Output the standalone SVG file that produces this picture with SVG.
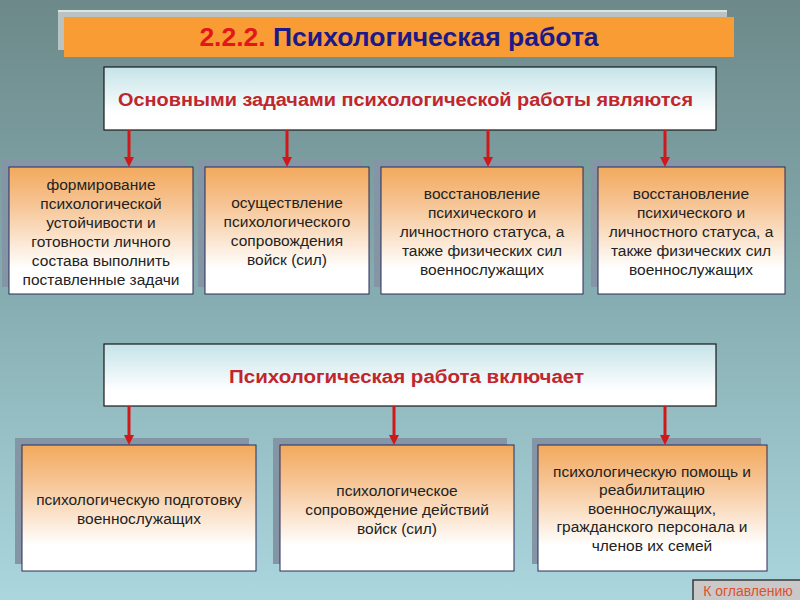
<svg xmlns="http://www.w3.org/2000/svg" width="800" height="600" viewBox="0 0 800 600">
<defs>
<linearGradient id="bg" x1="0" y1="0" x2="0" y2="1">
<stop offset="0" stop-color="#6d8989"/>
<stop offset="0.5" stop-color="#86aeb2"/>
<stop offset="1" stop-color="#acd6de"/>
</linearGradient>
<linearGradient id="hdr" x1="0" y1="0" x2="0" y2="1">
<stop offset="0" stop-color="#c4e3e8"/>
<stop offset="0.75" stop-color="#ffffff"/>
<stop offset="1" stop-color="#ffffff"/>
</linearGradient>
<linearGradient id="box" x1="0" y1="0" x2="0" y2="1">
<stop offset="0" stop-color="#f2a95c"/>
<stop offset="0.3" stop-color="#f6c595"/>
<stop offset="0.8" stop-color="#ffffff"/>
<stop offset="1" stop-color="#ffffff"/>
</linearGradient>
</defs>
<style>
.shadow{fill:#8496a6}
.box{fill:url(#box);stroke:#2a2a5a;stroke-width:1}
.hdr{fill:url(#hdr);stroke:#1a1a1a;stroke-width:1.2}
.t{font-family:"Liberation Sans",Arial,sans-serif;font-size:15.5px;fill:#222222;text-anchor:middle}
.h{font-family:"Liberation Sans",Arial,sans-serif;font-weight:bold;font-size:18px;fill:#c0262c}
.arr{stroke:#d01818;stroke-width:3;fill:none}
.ah{fill:#d01818}
</style>
<rect width="800" height="600" fill="url(#bg)"/>

<g id="title">
<rect x="58" y="10" width="669" height="40" fill="#b9c3c3"/>
<rect x="58" y="10" width="669" height="2" fill="#dde3e3"/>
<rect x="64" y="17" width="670" height="40" fill="#f99c33"/>
<text x="399" y="46" text-anchor="middle" font-family="Liberation Sans,Arial,sans-serif" font-weight="bold" font-size="26.5"><tspan fill="#e4161c">2.2.2.</tspan><tspan fill="#1c1a8a"> Психологическая работа</tspan></text>
</g>

<g id="header1">
<rect class="hdr" x="104" y="67" width="612" height="63"/>
<text class="h" x="118" y="106" textLength="575" lengthAdjust="spacingAndGlyphs">Основными задачами  психологической работы являются</text>
</g>

<g id="task1">
<rect class="shadow" x="2" y="160" width="184" height="127"/>
<rect class="box" x="9" y="167" width="184" height="127"/>
<text class="t" x="101" y="190">формирование</text>
<text class="t" x="101" y="209">психологической</text>
<text class="t" x="101" y="228">устойчивости и</text>
<text class="t" x="101" y="247">готовности личного</text>
<text class="t" x="101" y="266">состава выполнить</text>
<text class="t" x="101" y="285">поставленные задачи</text>
</g>

<g id="task2">
<rect class="shadow" x="198" y="160" width="164" height="127"/>
<rect class="box" x="205" y="167" width="164" height="127"/>
<text class="t" x="287" y="208">осуществление</text>
<text class="t" x="287" y="227">психологического</text>
<text class="t" x="287" y="246">сопровождения</text>
<text class="t" x="287" y="265">войск (сил)</text>
</g>

<g id="task3">
<rect class="shadow" x="374" y="160" width="202" height="127"/>
<rect class="box" x="381" y="167" width="202" height="127"/>
<text class="t" x="482" y="199">восстановление</text>
<text class="t" x="482" y="218">психического и</text>
<text class="t" x="482" y="237">личностного статуса, а</text>
<text class="t" x="482" y="256">также физических сил</text>
<text class="t" x="482" y="275">военнослужащих</text>
</g>

<g id="task4">
<rect class="shadow" x="591" y="160" width="187" height="127"/>
<rect class="box" x="598" y="167" width="187" height="127"/>
<text class="t" x="691" y="199">восстановление</text>
<text class="t" x="691" y="218">психического и</text>
<text class="t" x="691" y="237">личностного статуса, а</text>
<text class="t" x="691" y="256">также физических сил</text>
<text class="t" x="691" y="275">военнослужащих</text>
</g>

<g id="header2">
<rect class="hdr" x="104" y="344" width="612" height="62"/>
<text class="h" x="229" y="383" textLength="355" lengthAdjust="spacingAndGlyphs">Психологическая  работа  включает</text>
</g>

<g id="part1">
<rect class="shadow" x="15" y="438" width="234" height="126"/>
<rect class="box" x="22" y="445" width="234" height="126"/>
<text class="t" x="139" y="505">психологическую подготовку</text>
<text class="t" x="139" y="524">военнослужащих</text>
</g>

<g id="part2">
<rect class="shadow" x="273" y="438" width="234" height="126"/>
<rect class="box" x="280" y="445" width="234" height="126"/>
<text class="t" x="397" y="496">психологическое</text>
<text class="t" x="397" y="515">сопровождение действий</text>
<text class="t" x="397" y="534">войск (сил)</text>
</g>

<g id="part3">
<rect class="shadow" x="532" y="438" width="229" height="126"/>
<rect class="box" x="538" y="445" width="229" height="126"/>
<text class="t" x="652" y="477">психологическую помощь и</text>
<text class="t" x="652" y="495">реабилитацию</text>
<text class="t" x="652" y="514">военнослужащих,</text>
<text class="t" x="652" y="532">гражданского персонала и</text>
<text class="t" x="652" y="551">членов их семей</text>
</g>

<g id="connectors">
<line class="arr" x1="129" y1="130" x2="129" y2="158"/>
<polygon class="ah" points="124,157 134,157 129,167"/>
<line class="arr" x1="287" y1="130" x2="287" y2="158"/>
<polygon class="ah" points="282,157 292,157 287,167"/>
<line class="arr" x1="488" y1="130" x2="488" y2="158"/>
<polygon class="ah" points="483,157 493,157 488,167"/>
<line class="arr" x1="665" y1="130" x2="665" y2="158"/>
<polygon class="ah" points="660,157 670,157 665,167"/>
<line class="arr" x1="129" y1="406" x2="129" y2="436"/>
<polygon class="ah" points="124,435 134,435 129,445"/>
<line class="arr" x1="394" y1="406" x2="394" y2="436"/>
<polygon class="ah" points="389,435 399,435 394,445"/>
<line class="arr" x1="665" y1="406" x2="665" y2="436"/>
<polygon class="ah" points="660,435 670,435 665,445"/>
</g>

<g id="toc">
<rect x="693" y="580" width="107" height="20" fill="#c9c9c9"/>
<path d="M693,600 V580 H800" fill="none" stroke="#3a3a3a" stroke-width="1.5"/>
<text x="748" y="596" text-anchor="middle" font-family="Liberation Sans,Arial,sans-serif" font-size="14" fill="#e0502c">К оглавлению</text>
</g>
</svg>
